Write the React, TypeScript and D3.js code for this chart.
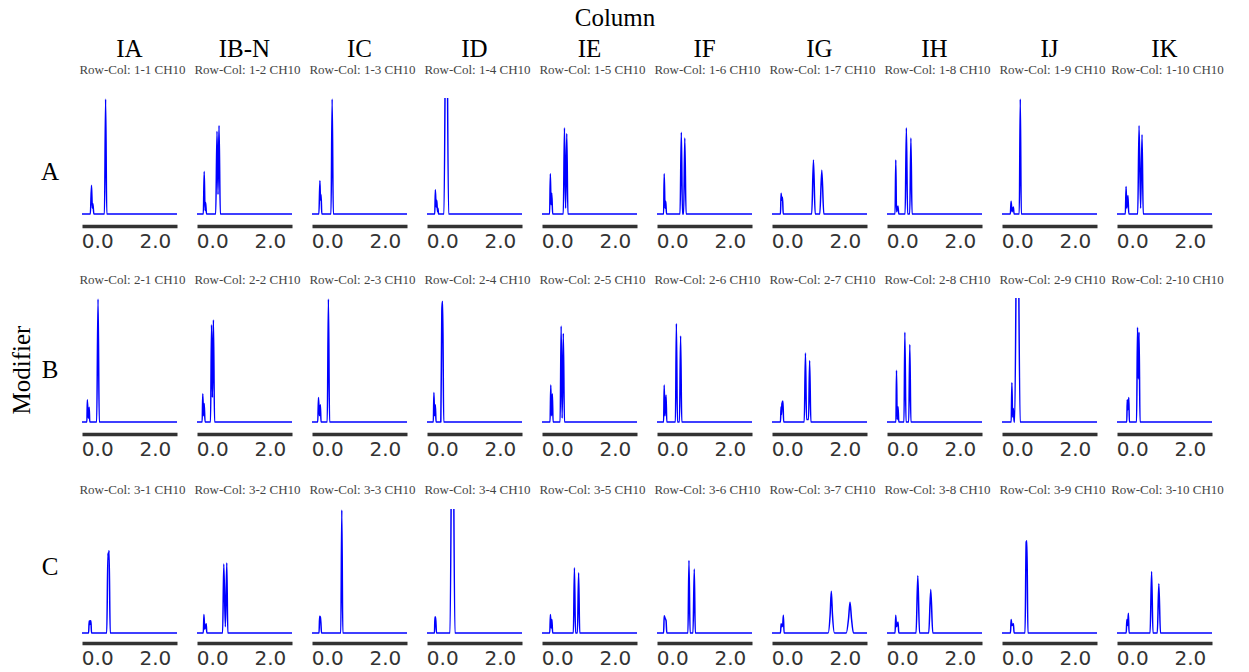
import React, { useEffect, useRef } from 'react';
import * as d3 from 'd3';

// facets
const columns = ['IA', 'IB-N', 'IC', 'ID', 'IE', 'IF', 'IG', 'IH', 'IJ', 'IK'];
const rows = ['A', 'B', 'C'];
const xDomain = [-0.53, 2.77];
const xTicks = [0, 2];

// chromatogram traces, [time, relative intensity], one list per column
const traceRowA = [
  [[-0.53, 0], [-0.24, 0], [-0.2, 0.25], [-0.17, 0.05], [-0.15, 0.09], [-0.12, 0], [0.25, 0], [0.29, 1.0], [0.33, 0], [2.77, 0]],
  [[-0.53, 0], [-0.31, 0], [-0.28, 0.37], [-0.25, 0.03], [-0.23, 0.1], [-0.2, 0], [0.12, 0], [0.165, 0.72], [0.2, 0.17], [0.235, 0.77], [0.28, 0], [2.77, 0]],
  [[-0.53, 0], [-0.29, 0], [-0.255, 0.29], [-0.235, 0.12], [-0.215, 0.17], [-0.19, 0], [0.13, 0], [0.17, 1.0], [0.21, 0], [2.77, 0]],
  [[-0.53, 0], [-0.26, 0], [-0.24, 0.21], [-0.21, 0.06], [-0.19, 0.12], [-0.165, 0.02], [-0.148, 0.05], [-0.13, 0], [0.06, 0], [0.14, 2.5], [0.22, 0], [2.77, 0]],
  [[-0.53, 0], [-0.265, 0], [-0.24, 0.35], [-0.215, 0.08], [-0.19, 0.18], [-0.16, 0], [0.21, 0], [0.25, 0.75], [0.29, 0.05], [0.33, 0.7], [0.37, 0], [2.77, 0]],
  [[-0.53, 0], [-0.3, 0], [-0.28, 0.35], [-0.25, 0.05], [-0.225, 0.11], [-0.2, 0], [0.27, 0], [0.315, 0.71], [0.355, 0], [0.395, 0], [0.435, 0.66], [0.48, 0], [2.77, 0]],
  [[-0.53, 0], [-0.235, 0], [-0.215, 0.18], [-0.19, 0.12], [-0.165, 0.145], [-0.14, 0], [0.85, 0], [0.91, 0.47], [0.97, 0], [1.13, 0], [1.2, 0.38], [1.27, 0], [2.77, 0]],
  [[-0.53, 0], [-0.25, 0], [-0.225, 0.47], [-0.2, 0.02], [-0.15, 0.07], [-0.12, 0], [0.1, 0], [0.143, 0.75], [0.185, 0], [0.26, 0], [0.3, 0.66], [0.34, 0], [2.77, 0]],
  [[-0.53, 0], [-0.24, 0], [-0.215, 0.11], [-0.18, 0.02], [-0.135, 0.06], [-0.11, 0], [0.07, 0], [0.105, 1.0], [0.14, 0], [2.77, 0]],
  [[-0.53, 0], [-0.24, 0], [-0.215, 0.24], [-0.19, 0.05], [-0.15, 0.16], [-0.12, 0], [0.19, 0], [0.236, 0.77], [0.29, 0.05], [0.34, 0.69], [0.38, 0], [2.77, 0]],
];

const traceRowB = [
  [[-0.53, 0], [-0.36, 0], [-0.345, 0.18], [-0.31, 0.03], [-0.28, 0.12], [-0.26, 0], [-0.02, 0], [0.027, 1.0], [0.07, 0], [2.77, 0]],
  [[-0.53, 0], [-0.35, 0], [-0.33, 0.23], [-0.3, 0.05], [-0.28, 0.15], [-0.25, 0], [-0.06, 0], [-0.025, 0.79], [0.005, 0.2], [0.04, 0.83], [0.08, 0], [2.77, 0]],
  [[-0.53, 0], [-0.33, 0], [-0.305, 0.2], [-0.27, 0.05], [-0.24, 0.14], [-0.215, 0], [0.0, 0], [0.04, 1.0], [0.08, 0], [2.77, 0]],
  [[-0.53, 0], [-0.31, 0], [-0.29, 0.24], [-0.265, 0.05], [-0.24, 0.14], [-0.215, 0], [-0.05, 0], [-0.015, 0.9], [0.0, 0.98], [0.015, 0.98], [0.05, 0], [2.77, 0]],
  [[-0.53, 0], [-0.25, 0], [-0.225, 0.3], [-0.2, 0.05], [-0.17, 0.23], [-0.145, 0], [0.1, 0], [0.135, 0.78], [0.17, 0.03], [0.21, 0.72], [0.25, 0], [2.77, 0]],
  [[-0.53, 0], [-0.3, 0], [-0.28, 0.3], [-0.255, 0.05], [-0.215, 0.22], [-0.19, 0], [0.11, 0], [0.143, 0.8], [0.18, 0], [0.25, 0], [0.29, 0.7], [0.33, 0], [2.77, 0]],
  [[-0.53, 0], [-0.235, 0], [-0.215, 0.125], [-0.2, 0.06], [-0.185, 0.15], [-0.15, 0.17], [-0.125, 0], [0.59, 0], [0.632, 0.56], [0.67, 0.02], [0.74, 0.02], [0.777, 0.5], [0.82, 0], [2.77, 0]],
  [[-0.53, 0], [-0.22, 0], [-0.2, 0.42], [-0.175, 0.02], [-0.147, 0.125], [-0.12, 0], [0.06, 0], [0.09, 0.73], [0.13, 0], [0.225, 0], [0.262, 0.63], [0.3, 0], [2.77, 0]],
  [[-0.53, 0], [-0.21, 0], [-0.187, 0.32], [-0.16, 0.04], [-0.134, 0.11], [-0.11, 0], [-0.09, 0], [0.005, 2.3], [0.1, 0], [2.77, 0]],
  [[-0.53, 0], [-0.19, 0], [-0.175, 0.18], [-0.15, 0.1], [-0.12, 0.2], [-0.1, 0], [0.15, 0], [0.183, 0.77], [0.21, 0.35], [0.236, 0.73], [0.27, 0], [2.77, 0]],
];

const traceRowC = [
  [[-0.53, 0], [-0.3, 0], [-0.28, 0.1], [-0.255, 0.07], [-0.24, 0.1], [-0.22, 0.1], [-0.2, 0], [0.33, 0], [0.37, 0.65], [0.385, 0.6], [0.41, 0.67], [0.45, 0], [2.77, 0]],
  [[-0.53, 0], [-0.31, 0], [-0.29, 0.15], [-0.26, 0.03], [-0.21, 0.076], [-0.19, 0], [0.36, 0], [0.4, 0.56], [0.455, 0.05], [0.505, 0.57], [0.54, 0], [2.77, 0]],
  [[-0.53, 0], [-0.285, 0], [-0.265, 0.136], [-0.24, 0.13], [-0.22, 0.08], [-0.2, 0], [0.47, 0], [0.505, 1.0], [0.54, 0], [2.77, 0]],
  [[-0.53, 0], [-0.27, 0], [-0.255, 0.13], [-0.23, 0.13], [-0.2, 0], [0.27, 0], [0.355, 2.5], [0.44, 0], [2.77, 0]],
  [[-0.53, 0], [-0.26, 0], [-0.238, 0.15], [-0.21, 0.04], [-0.186, 0.11], [-0.16, 0], [0.56, 0], [0.596, 0.53], [0.635, 0], [0.7, 0], [0.742, 0.49], [0.78, 0], [2.77, 0]],
  [[-0.53, 0], [-0.3, 0], [-0.28, 0.14], [-0.25, 0.12], [-0.215, 0.1], [-0.19, 0], [0.545, 0], [0.58, 0.59], [0.62, 0], [0.72, 0], [0.765, 0.52], [0.8, 0], [2.77, 0]],
  [[-0.53, 0], [-0.235, 0], [-0.213, 0.076], [-0.19, 0.05], [-0.16, 0.06], [-0.135, 0.144], [-0.11, 0], [1.42, 0], [1.49, 0.15], [1.53, 0.34], [1.57, 0.15], [1.64, 0], [2.05, 0], [2.13, 0.12], [2.18, 0.25], [2.23, 0.12], [2.3, 0], [2.77, 0]],
  [[-0.53, 0], [-0.25, 0], [-0.226, 0.144], [-0.2, 0.05], [-0.147, 0.09], [-0.12, 0], [0.48, 0], [0.54, 0.465], [0.6, 0], [0.92, 0], [0.99, 0.353], [1.06, 0], [2.77, 0]],
  [[-0.53, 0], [-0.235, 0], [-0.213, 0.11], [-0.185, 0.06], [-0.134, 0.076], [-0.11, 0], [0.27, 0], [0.31, 0.74], [0.335, 0.75], [0.37, 0], [2.77, 0]],
  [[-0.53, 0], [-0.21, 0], [-0.187, 0.11], [-0.165, 0.06], [-0.134, 0.16], [-0.11, 0], [0.62, 0], [0.672, 0.5], [0.72, 0], [0.87, 0], [0.923, 0.4], [0.98, 0], [2.77, 0]],
];

const traces = [traceRowA, traceRowB, traceRowC];

const W = 1249;
const H = 672;
const panelLeft = 82;
const panelStep = 115;
const panelWidth = 95;
const rowTop = [99, 299, 510];
const rowBase = [214, 422, 633];
const rowAxis = [226, 434, 643];
const stripY = [74, 284, 494];
const rowLabelY = [180, 378, 575];

const serif = "'Liberation Serif', 'Times New Roman', serif";
const sans = "'DejaVu Sans', sans-serif";

export default function App() {
  const ref = useRef<SVGSVGElement>(null);

  useEffect(() => {
    const svg = d3.select(ref.current);
    svg.selectAll('*').remove();

    svg.append('rect').attr('width', W).attr('height', H).attr('fill', '#fff');

    svg.append('text')
      .attr('x', 615).attr('y', 26)
      .attr('text-anchor', 'middle')
      .attr('font-family', serif).attr('font-size', 25)
      .text('Column');

    svg.append('text')
      .attr('transform', 'translate(30,370) rotate(-90)')
      .attr('text-anchor', 'middle')
      .attr('font-family', serif).attr('font-size', 25)
      .text('Modifier');

    columns.forEach((col, c) => {
      svg.append('text')
        .attr('x', panelLeft + c * panelStep + panelWidth / 2)
        .attr('y', 57)
        .attr('text-anchor', 'middle')
        .attr('font-family', serif).attr('font-size', 25)
        .text(col);
    });

    const line = d3.line<number[]>().curve(d3.curveMonotoneX);

    rows.forEach((row, r) => {
      svg.append('text')
        .attr('x', 50).attr('y', rowLabelY[r])
        .attr('text-anchor', 'middle')
        .attr('font-family', serif).attr('font-size', 25)
        .text(row);

      columns.forEach((col, c) => {
        const x0 = panelLeft + c * panelStep;
        const x = d3.scaleLinear().domain(xDomain).range([x0, x0 + panelWidth]);
        const y = d3.scaleLinear().domain([0, 1]).range([rowBase[r], rowTop[r]]);

        svg.append('text')
          .attr('x', x0 + panelWidth / 2 + 3)
          .attr('y', stripY[r])
          .attr('text-anchor', 'middle')
          .attr('font-family', serif).attr('font-size', 13)
          .attr('fill', '#444')
          .text(`Row-Col: ${r + 1}-${c + 1} CH10`);

        const clipId = `clip-${r}-${c}`;
        svg.append('clipPath').attr('id', clipId)
          .append('rect')
          .attr('x', x0 - 3).attr('y', rowTop[r] - 1)
          .attr('width', panelWidth + 6).attr('height', rowBase[r] - rowTop[r] + 8);

        line.x((d) => x(d[0])).y((d) => y(d[1]));
        svg.append('path')
          .attr('clip-path', `url(#${clipId})`)
          .attr('d', line(traces[r][c]))
          .attr('fill', 'none')
          .attr('stroke', '#0000ff')
          .attr('stroke-width', 1.5)
          .attr('stroke-linejoin', 'round');

        const axis = d3.axisBottom(x)
          .tickValues(xTicks)
          .tickFormat(d3.format('.1f'))
          .tickSize(0)
          .tickSizeOuter(0)
          .tickPadding(8);

        svg.append('g')
          .attr('transform', `translate(0,${rowAxis[r]})`)
          .call(axis)
          .call((g) => g.select('.domain').attr('stroke', '#333').attr('stroke-width', 3.5))
          .call((g) => g.selectAll('.tick text')
            .attr('font-family', sans)
            .attr('font-size', 20)
            .attr('fill', '#333'));
      });
    });
  }, []);

  return (
    <svg
      ref={ref}
      width={W}
      height={H}
      style={{ position: 'absolute', left: 0, top: 0, display: 'block' }}
    />
  );
}
